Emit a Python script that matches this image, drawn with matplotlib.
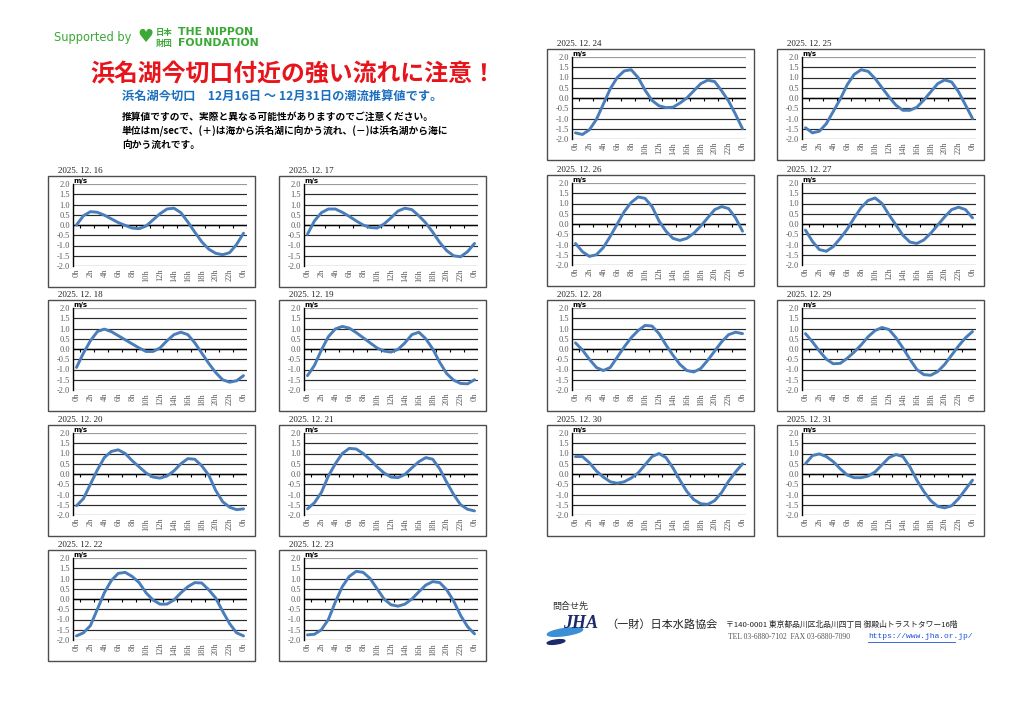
import matplotlib
matplotlib.use('Agg')
import matplotlib.pyplot as plt
import numpy as np
from matplotlib.patches import Rectangle, Ellipse

plt.rcParams['font.family'] = ['Noto Sans CJK JP', 'DejaVu Sans']

hours = list(range(25))
hour_labels = ['0h', '2h', '4h', '6h', '8h', '10h', '12h', '14h', '16h', '18h', '20h', '22h', '0h']
y_ticks = [-2.0, -1.5, -1.0, -0.5, 0.0, 0.5, 1.0, 1.5, 2.0]

dates = ['2025. 12. 16', '2025. 12. 17', '2025. 12. 18', '2025. 12. 19',
         '2025. 12. 20', '2025. 12. 21', '2025. 12. 22', '2025. 12. 23',
         '2025. 12. 24', '2025. 12. 25', '2025. 12. 26', '2025. 12. 27',
         '2025. 12. 28', '2025. 12. 29', '2025. 12. 30', '2025. 12. 31']

d1216 = [0.0, 0.45, 0.65, 0.62, 0.48, 0.3, 0.12, -0.02, -0.15, -0.18, -0.05, 0.25, 0.55,
         0.78, 0.82, 0.6, 0.15, -0.35, -0.82, -1.18, -1.38, -1.45, -1.35, -0.95, -0.4]
d1217 = [-0.45, 0.2, 0.6, 0.78, 0.78, 0.62, 0.42, 0.2, 0.0, -0.12, -0.15, 0.05, 0.35,
         0.68, 0.82, 0.75, 0.45, 0.1, -0.35, -0.85, -1.25, -1.5, -1.55, -1.3, -0.9]
d1218 = [-0.9, -0.2, 0.4, 0.85, 0.97, 0.85, 0.65, 0.45, 0.25, 0.05, -0.12, -0.12, 0.05,
         0.4, 0.7, 0.82, 0.7, 0.3, -0.2, -0.7, -1.15, -1.5, -1.62, -1.55, -1.3]
d1219 = [-1.3, -0.8, -0.05, 0.6, 0.98, 1.1, 1.02, 0.8, 0.55, 0.3, 0.05, -0.1, -0.15,
         -0.02, 0.3, 0.7, 0.82, 0.5, 0.0, -0.65, -1.2, -1.52, -1.68, -1.7, -1.5]
d1220 = [-1.55, -1.2, -0.5, 0.2, 0.8, 1.1, 1.18, 1.0, 0.65, 0.35, 0.05, -0.15, -0.2,
         -0.1, 0.15, 0.5, 0.75, 0.72, 0.4, -0.05, -0.8, -1.35, -1.62, -1.74, -1.7]
d1221 = [-1.7, -1.4, -0.9, -0.1, 0.5, 1.0, 1.25, 1.22, 1.0, 0.7, 0.35, 0.05, -0.15,
         -0.18, -0.02, 0.3, 0.6, 0.8, 0.72, 0.25, -0.4, -1.0, -1.5, -1.72, -1.8]
d1222 = [-1.8, -1.65, -1.3, -0.5, 0.3, 0.9, 1.25, 1.3, 1.1, 0.8, 0.3, -0.05, -0.25,
         -0.25, -0.05, 0.3, 0.6, 0.8, 0.78, 0.45, 0.05, -0.6, -1.2, -1.65, -1.8]
d1223 = [-1.75, -1.72, -1.5, -1.0, -0.15, 0.6, 1.1, 1.35, 1.3, 1.0, 0.5, 0.0, -0.28,
         -0.35, -0.25, 0.0, 0.35, 0.68, 0.85, 0.8, 0.45, -0.1, -0.8, -1.35, -1.7]
d1224 = [-1.7, -1.78, -1.55, -1.05, -0.3, 0.45, 1.0, 1.32, 1.38, 1.0, 0.38, -0.12, -0.38,
         -0.47, -0.45, -0.25, 0.0, 0.35, 0.7, 0.87, 0.8, 0.35, -0.15, -0.8, -1.5]
d1225 = [-1.45, -1.7, -1.62, -1.25, -0.65, -0.05, 0.65, 1.15, 1.38, 1.3, 0.95, 0.5, 0.05,
         -0.35, -0.6, -0.6, -0.45, -0.1, 0.3, 0.7, 0.88, 0.78, 0.3, -0.35, -1.0]
d1226 = [-0.95, -1.35, -1.58, -1.5, -1.15, -0.6, 0.0, 0.6, 1.05, 1.32, 1.25, 0.85, 0.15,
         -0.35, -0.7, -0.8, -0.7, -0.45, -0.1, 0.3, 0.7, 0.85, 0.75, 0.3, -0.35]
d1227 = [-0.3, -0.85, -1.25, -1.33, -1.1, -0.7, -0.25, 0.3, 0.8, 1.15, 1.27, 1.0, 0.45,
         -0.05, -0.55, -0.88, -0.95, -0.78, -0.45, -0.05, 0.35, 0.7, 0.82, 0.7, 0.3]
d1228 = [0.3, -0.05, -0.5, -0.9, -1.05, -0.9, -0.4, 0.1, 0.55, 0.9, 1.15, 1.12, 0.75,
         0.2, -0.3, -0.75, -1.05, -1.12, -0.95, -0.55, -0.1, 0.35, 0.7, 0.82, 0.75]
d1229 = [0.75, 0.35, -0.1, -0.5, -0.72, -0.7, -0.45, -0.15, 0.2, 0.6, 0.9, 1.05, 0.95,
         0.55, 0.05, -0.5, -1.0, -1.25, -1.28, -1.1, -0.75, -0.3, 0.15, 0.55, 0.85]
d1230 = [0.85, 0.85, 0.55, 0.15, -0.15, -0.38, -0.45, -0.38, -0.2, 0.05, 0.45, 0.85, 1.0,
         0.8, 0.3, -0.3, -0.85, -1.25, -1.45, -1.48, -1.3, -0.9, -0.35, 0.1, 0.5]
d1231 = [0.5, 0.9, 0.98, 0.85, 0.6, 0.25, -0.05, -0.18, -0.18, -0.1, 0.1, 0.45, 0.8,
         0.95, 0.85, 0.35, -0.3, -0.85, -1.3, -1.58, -1.65, -1.55, -1.2, -0.75, -0.3]

series = [d1216, d1217, d1218, d1219, d1220, d1221, d1222, d1223,
          d1224, d1225, d1226, d1227, d1228, d1229, d1230, d1231]

W, H = 1024, 724
fig = plt.figure(figsize=(W / 100, H / 100), dpi=100)


def fx(x):
    return x / W


def fy(y):
    return 1 - y / H


# panel layout (pixels)
left_x = [48, 279]
right_x = [547, 777]
left_tops = [176, 300, 425, 550]
right_tops = [49, 175, 300, 425]
positions = [(x, t) for t in left_tops for x in left_x] + [(x, t) for t in right_tops for x in right_x]
BW, BH = 207, 111

for (x0, t0), date, vals in zip(positions, dates, series):
    fig.patches.append(Rectangle((fx(x0), fy(t0 + BH)), BW / W, BH / H, transform=fig.transFigure,
                                 fill=False, ec='#4d4d4d', lw=1.0))
    fig.text(fx(x0 + 10), fy(t0 - 5), date, fontsize=6.5, family=['Liberation Serif', 'DejaVu Serif'],
             va='center', ha='left', color='#222222')
    ax = fig.add_axes([fx(x0 + 25), fy(t0 + 8 + 82), 174 / W, 82 / H])
    ax.set_xlim(-0.5, 24.5)
    ax.set_ylim(-2, 2)
    for yv in y_ticks:
        ax.axhline(yv, color='#9a9a9a' if yv == 2.0 else '#2a2a2a', lw=0.85, zorder=1)
    ax.axhline(0, color='black', lw=1.0, zorder=2)
    ax.vlines(np.arange(0.5, 25, 2), -0.13, 0, color='black', lw=0.8, zorder=2)
    ax.plot(hours, vals, color='#4a7ebb', lw=2.1, solid_capstyle='round', solid_joinstyle='round', zorder=3)
    ax.set_yticks(y_ticks)
    ax.set_yticklabels([f'{v:.1f}' for v in y_ticks])
    ax.set_xticks(hours[::2])
    ax.set_xticklabels(hour_labels, rotation=90)
    ax.tick_params(length=0, labelsize=6, colors='#5a5a5a', pad=2)
    for lab in ax.get_xticklabels() + ax.get_yticklabels():
        lab.set_family(['Liberation Serif', 'DejaVu Serif'])
    for s in ['top', 'right', 'bottom']:
        ax.spines[s].set_visible(False)
    ax.spines['left'].set_color('black')
    ax.spines['left'].set_linewidth(1.0)
    ax.text(0.005, 1.04, 'm/s', transform=ax.transAxes, fontsize=5, weight='bold', va='center', ha='left',
            family='DejaVu Sans')

# header
green = '#3aa935'
fig.text(fx(54), fy(38), 'Supported by', fontsize=8.3, color=green, va='center', ha='left', family='DejaVu Sans')
fig.text(fx(145), fy(37), '\u2665', fontsize=13, color=green, va='center', ha='center', family='DejaVu Sans')
fig.text(fx(156), fy(32), '日本', fontsize=6, color=green, va='center', ha='left', weight='bold')
fig.text(fx(156), fy(43), '財団', fontsize=6, color=green, va='center', ha='left', weight='bold')
fig.text(fx(178), fy(32), 'THE NIPPON', fontsize=7.8, color=green, va='center', ha='left', weight='bold',
         family='DejaVu Sans')
fig.text(fx(178), fy(43), 'FOUNDATION', fontsize=7.8, color=green, va='center', ha='left', weight='bold',
         family='DejaVu Sans')

fig.text(fx(90), fy(74), '浜名湖今切口付近の強い流れに注意！', fontsize=17.2, color='#e8141b', weight='bold',
         va='center', ha='left')
fig.text(fx(122), fy(97), '浜名湖今切口　12月16日 ～ 12月31日の潮流推算値です。', fontsize=8.8, color='#1a6fc0',
         weight='bold', va='center', ha='left')
fig.text(fx(122), fy(117), '推算値ですので、実際と異なる可能性がありますのでご注意ください。', fontsize=7,
         weight='bold', va='center', ha='left')
fig.text(fx(122), fy(131), '単位はm/secで、(＋)は海から浜名湖に向かう流れ、(－)は浜名湖から海に', fontsize=7,
         weight='bold', va='center', ha='left')
fig.text(fx(122), fy(145), '向かう流れです。', fontsize=7, weight='bold', va='center', ha='left')

# footer
fig.text(fx(552), fy(606), '問合せ先', fontsize=6.5, va='center', ha='left', color='#333333')
for (ex, ey, ew, eh) in [(565, 632, 36, 7), (556, 642, 18, 4)]:
    fig.patches.append(Ellipse((fx(ex), fy(ey)), ew / W, eh / H, angle=12, transform=fig.transFigure,
                               color='#3a8fd6' if ey < 640 else '#1b2a6b'))
fig.text(fx(563), fy(624), 'JHA', fontsize=13, style='italic', weight='bold', color='#1b2a6b',
         family=['Liberation Serif', 'DejaVu Serif'], va='center', ha='left')
fig.text(fx(606), fy(625), '（一財）日本水路協会', fontsize=8, va='center', ha='left', color='#222222')
fig.text(fx(726), fy(625), '〒140-0001 東京都品川区北品川四丁目 御殿山トラストタワー16階', fontsize=5.6,
         va='center', ha='left', color='#222222')
fig.text(fx(728), fy(637), 'TEL 03-6880-7102  FAX 03-6880-7090', fontsize=5.5, va='center', ha='left',
         color='#555555', family=['Liberation Serif', 'DejaVu Serif'])
fig.text(fx(868), fy(637), 'https://www.jha.or.jp/', fontsize=5.8, va='center', ha='left',
         color='#1a4fd6', family=['Liberation Mono', 'DejaVu Sans Mono'])
fig.add_artist(plt.Line2D([fx(868), fx(955)], [fy(642), fy(642)], color='#1a4fd6', lw=0.6))

fig.savefig('out.png', dpi=100, facecolor='white')
